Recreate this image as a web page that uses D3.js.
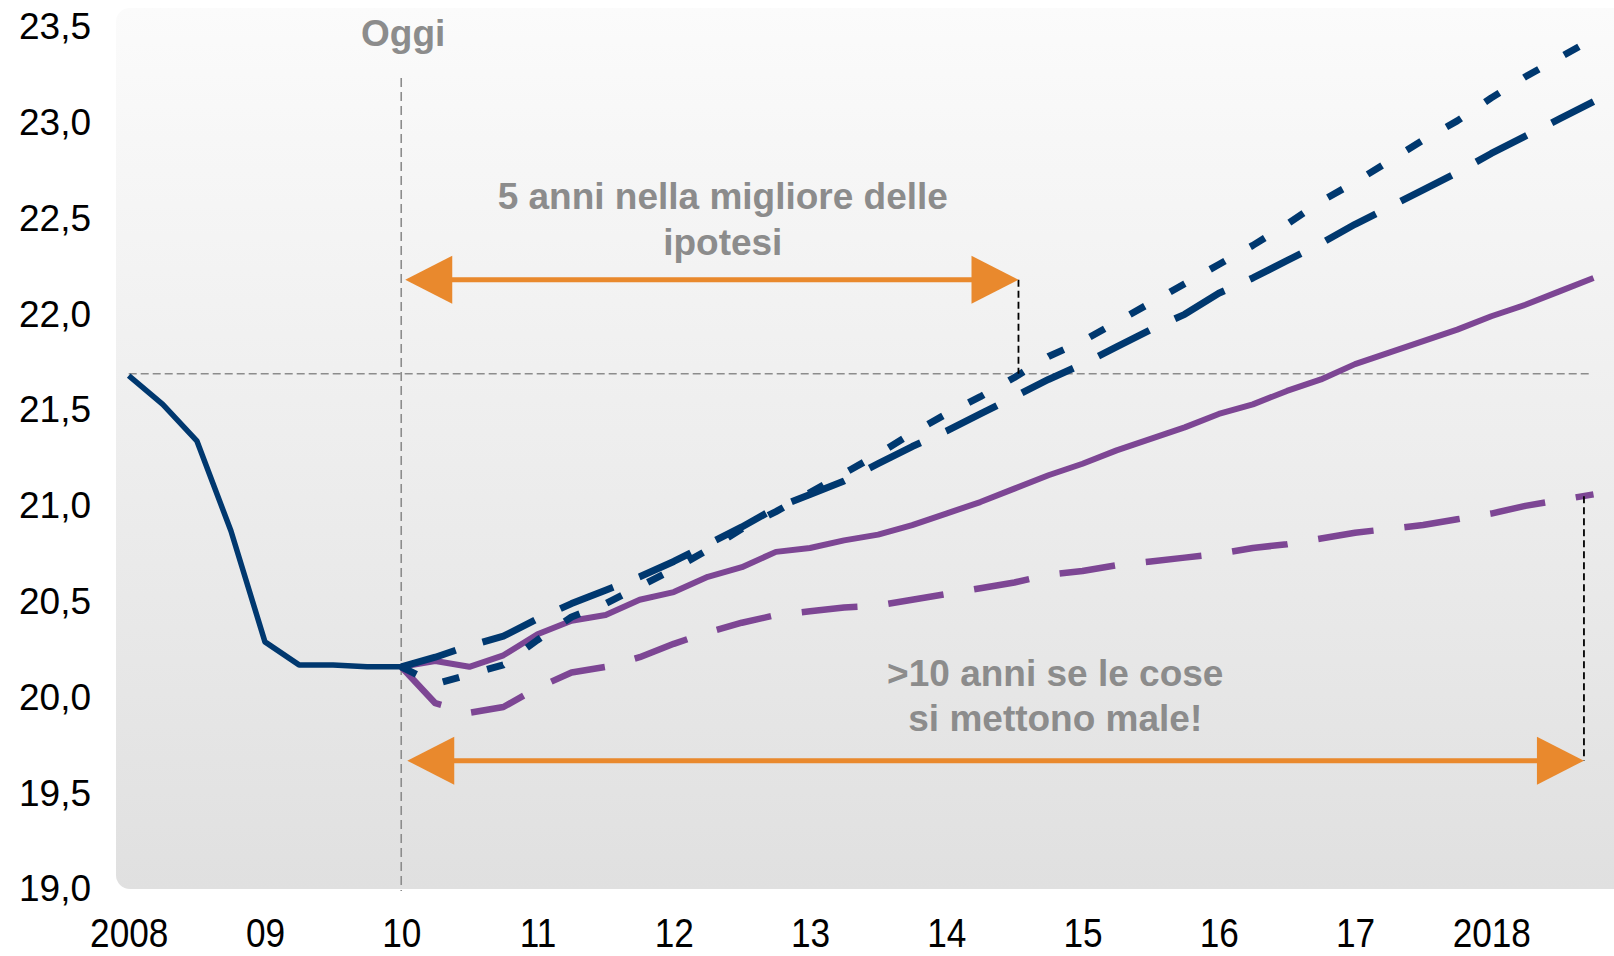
<!DOCTYPE html>
<html>
<head>
<meta charset="utf-8">
<script src="https://cdn.jsdelivr.net/npm/d3@7"></script>
<style>
    body { margin: 0; background: #fff; }
    svg { display: block; font-family: "Liberation Sans", Arial, Helvetica, sans-serif; }
</style>
</head>
<body>
<div id="chart"></div>
<script>
// Quarterly values
const histValues = [21.68, 21.53, 21.34, 20.87, 20.29, 20.17, 20.17, 20.16, 20.16]; // 2008 Q1 .. 2010 Q1

// projections, 2010 Q1 .. 2018 Q4
const bestCase = [20.16, 20.07, 20.12, 20.17, 20.30, 20.42, 20.49, 20.58, 20.67, 20.77, 20.88, 20.97,
    21.07, 21.17, 21.27, 21.38, 21.48, 21.57, 21.67, 21.78, 21.86, 21.96, 22.06, 22.16,
    22.26, 22.36, 22.47, 22.59, 22.69, 22.80, 22.91, 23.01, 23.13, 23.24, 23.34, 23.44];
const fastCase = [20.16, 20.21, 20.27, 20.32, 20.41, 20.49, 20.56, 20.63, 20.71, 20.80, 20.89, 20.99,
    21.06, 21.13, 21.22, 21.31, 21.39, 21.48, 21.57, 21.66, 21.74, 21.83, 21.92, 22.00,
    22.11, 22.19, 22.28, 22.37, 22.47, 22.56, 22.65, 22.74, 22.84, 22.93, 23.02, 23.11];
const midCase = [20.16, 20.19, 20.16, 20.22, 20.33, 20.40, 20.43, 20.51, 20.55, 20.63, 20.68, 20.76,
    20.78, 20.82, 20.85, 20.90, 20.96, 21.02, 21.09, 21.16, 21.22, 21.29, 21.35, 21.41,
    21.48, 21.53, 21.60, 21.66, 21.74, 21.80, 21.86, 21.92, 21.99, 22.05, 22.12, 22.19];
const worstCase = [20.16, 19.97, 19.92, 19.95, 20.05, 20.13, 20.16, 20.21, 20.28, 20.34, 20.39, 20.43,
    20.45, 20.47, 20.48, 20.51, 20.54, 20.57, 20.60, 20.64, 20.66, 20.69, 20.71, 20.73,
    20.75, 20.78, 20.80, 20.83, 20.86, 20.88, 20.90, 20.93, 20.96, 21.00, 21.03, 21.06];

const yTicks = [19, 19.5, 20, 20.5, 21, 21.5, 22, 22.5, 23, 23.5];
const xTickYears = [2008, 2009, 2010, 2011, 2012, 2013, 2014, 2015, 2016, 2017, 2018];
const xTickLabels = ['2008', '09', '10', '11', '12', '13', '14', '15', '16', '17', '2018'];

// annotation anchors
const todayYear = 2010;
const preCrisisLevel = 21.69;
const refLineEnd = 2018.72;
const goodEndYear = 2014.53;
const badEndYear = 2018.68;
const badEndValue = 21.05;
const topArrowValue = 22.18;
const bottomArrowValue = 19.67;

const width = 1614, height = 956;
const blue = '#00386f', purple = '#7d4694', orange = '#e9892d', grey = '#8c8c8c';

const svg = d3.select('#chart').append('svg')
    .attr('width', width)
    .attr('height', height);

const x = d3.scaleLinear().domain([2008, 2018]).range([128.7, 1491.3]);
const y = d3.scaleLinear().domain([19, 23.5]).range([889, 27]);

// plot background with vertical gradient
const defs = svg.append('defs');
const grad = defs.append('linearGradient')
    .attr('id', 'bg')
    .attr('x1', 0).attr('y1', 0).attr('x2', 0).attr('y2', 1);
grad.append('stop').attr('offset', '0%').attr('stop-color', '#fbfbfb');
grad.append('stop').attr('offset', '100%').attr('stop-color', '#e0e0e0');

svg.append('rect')
    .attr('x', 116)
    .attr('y', 8)
    .attr('width', width - 116 + 30)
    .attr('height', y(19) - 8)
    .attr('rx', 14)
    .attr('fill', 'url(#bg)');

// axes (labels only)
const yAxis = d3.axisLeft(y)
    .tickValues(yTicks)
    .tickSize(0)
    .tickPadding(0)
    .tickFormat(d => d3.format('.1f')(d).replace('.', ','));
const gY = svg.append('g')
    .attr('transform', 'translate(91,0)')
    .call(yAxis);
gY.select('.domain').remove();
gY.selectAll('text')
    .attr('font-size', 37)
    .attr('font-family', '"Liberation Sans", Arial, sans-serif')
    .attr('fill', '#000');

const xAxis = d3.axisBottom(x)
    .tickValues(xTickYears)
    .tickSize(0)
    .tickPadding(0)
    .tickFormat((d, i) => xTickLabels[i]);
const gX = svg.append('g')
    .attr('transform', 'translate(0,919)')
    .call(xAxis);
gX.select('.domain').remove();
gX.selectAll('text')
    .attr('font-size', 40)
    .attr('font-family', '"Liberation Sans", Arial, sans-serif')
    .attr('transform', 'scale(0.88,1)')
    .attr('fill', '#000');

// reference lines
svg.append('line')
    .attr('x1', x(todayYear)).attr('x2', x(todayYear))
    .attr('y1', 78).attr('y2', y(19) + 2)
    .attr('stroke', grey).attr('stroke-width', 1.6)
    .attr('stroke-dasharray', '9,5');

svg.append('line')
    .attr('x1', x(2008)).attr('x2', x(refLineEnd))
    .attr('y1', y(preCrisisLevel)).attr('y2', y(preCrisisLevel))
    .attr('stroke', grey).attr('stroke-width', 1.6)
    .attr('stroke-dasharray', '8,4');

// series
const histData = histValues.map((v, i) => ({ t: 2008 + i / 4, v }));
const toSeries = arr => arr.map((v, i) => ({ t: 2010 + i / 4, v }));

const line = d3.line()
    .x(d => x(d.t))
    .y(d => y(d.v));

const series = [
    { data: toSeries(worstCase), color: purple, width: 6.5, dash: '56,31' },
    { data: toSeries(midCase), color: purple, width: 6, dash: null },
    { data: toSeries(fastCase), color: blue, width: 7, dash: '57,28' },
    { data: toSeries(bestCase), color: blue, width: 7, dash: '17,29' },
    { data: histData, color: blue, width: 5.5, dash: null }
];

svg.selectAll('.series')
    .data(series)
    .enter()
    .append('path')
    .attr('class', 'series')
    .attr('d', d => line(d.data))
    .attr('fill', 'none')
    .attr('stroke', d => d.color)
    .attr('stroke-width', d => d.width)
    .attr('stroke-dasharray', d => d.dash)
    .attr('stroke-linejoin', 'round');

// black dashed drop lines
svg.append('line')
    .attr('x1', x(goodEndYear)).attr('x2', x(goodEndYear))
    .attr('y1', y(topArrowValue)).attr('y2', y(preCrisisLevel))
    .attr('stroke', '#000').attr('stroke-width', 1.8)
    .attr('stroke-dasharray', '7,4');

svg.append('line')
    .attr('x1', x(badEndYear)).attr('x2', x(badEndYear))
    .attr('y1', y(badEndValue)).attr('y2', y(bottomArrowValue))
    .attr('stroke', '#000').attr('stroke-width', 1.8)
    .attr('stroke-dasharray', '7,4');

// double headed arrows
function arrow(x0, x1, yy) {
    const head = 47, half = 24;
    const g = svg.append('g');
    g.append('line')
        .attr('x1', x0 + head - 2).attr('x2', x1 - head + 2)
        .attr('y1', yy).attr('y2', yy)
        .attr('stroke', orange).attr('stroke-width', 5);
    g.append('path')
        .attr('d', `M${x0},${yy}L${x0 + head},${yy - half}L${x0 + head},${yy + half}Z`)
        .attr('fill', orange);
    g.append('path')
        .attr('d', `M${x1},${yy}L${x1 - head},${yy - half}L${x1 - head},${yy + half}Z`)
        .attr('fill', orange);
}
arrow(x(todayYear) + 4, x(goodEndYear), y(topArrowValue));
arrow(x(todayYear) + 6, x(badEndYear), y(bottomArrowValue));

// annotation texts
const note = (tx, ty, str) => svg.append('text')
    .attr('x', tx).attr('y', ty)
    .attr('text-anchor', 'middle')
    .attr('font-size', 37)
    .attr('font-weight', 'bold')
    .attr('fill', grey)
    .text(str);

note(x(todayYear) + 2, 46, 'Oggi');
note(x(2012.36), y(topArrowValue) - 71, '5 anni nella migliore delle');
note(x(2012.36), y(topArrowValue) - 25, 'ipotesi');
note(x(2014.80), y(bottomArrowValue) - 75, '>10 anni se le cose');
note(x(2014.80), y(bottomArrowValue) - 30, 'si mettono male!');
</script>
</body>
</html>
